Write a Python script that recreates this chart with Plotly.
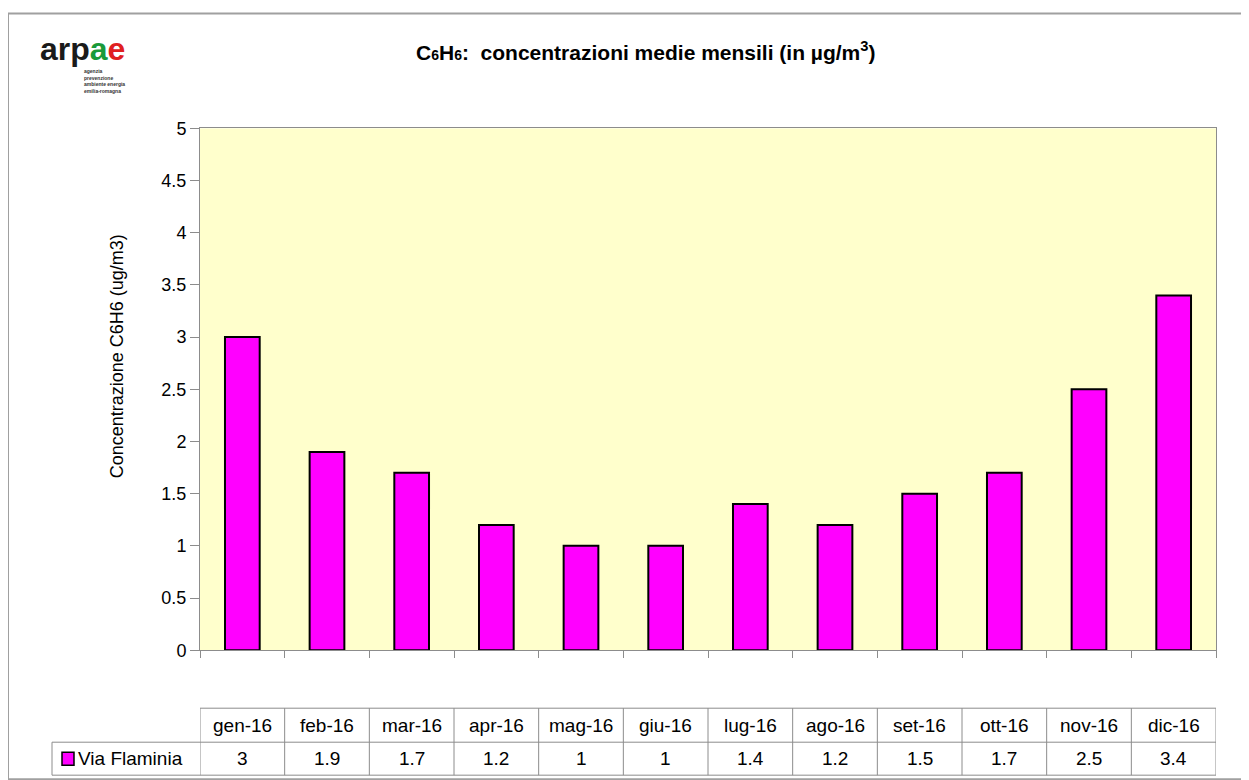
import plotly.graph_objects as go

mesi = ["gen-16", "feb-16", "mar-16", "apr-16", "mag-16", "giu-16",
        "lug-16", "ago-16", "set-16", "ott-16", "nov-16", "dic-16"]
via_flaminia = [3, 1.9, 1.7, 1.2, 1, 1, 1.4, 1.2, 1.5, 1.7, 2.5, 3.4]
serie = "Via Flaminia"
y_ticks = [0, 0.5, 1, 1.5, 2, 2.5, 3, 3.5, 4, 4.5, 5]

W, H = 1249 - 16, 790
FONT = "Arial, Liberation Sans, sans-serif"
GRIGIO = "#8c8c8c"


def px(x):
    # pixel dell'immagine -> coordinate paper (margine pagina 8px)
    return (x - 8) / W


def py(y):
    # correzione verticale misurata sulla foto della pagina
    return 1 - (y / 0.975 - 17) / H


fig = go.Figure()
fig.add_trace(go.Bar(
    x=mesi, y=via_flaminia, name=serie, width=0.41,
    marker=dict(color="#FF00FF", line=dict(color="black", width=2)),
    showlegend=False,
))

shapes = []
annotations = []

# cornice esterna
shapes.append(dict(type="rect", xref="paper", yref="paper",
                   x0=px(8), x1=px(1262), y0=py(12), y1=py(778),
                   line=dict(color="#a0a0a0", width=2)))

# tabella dati sotto il grafico
top, mid, bot = py(707), py(741), py(774)
n = len(mesi)
shapes.append(dict(type="line", xref="x", yref="paper", x0=-0.5, x1=n - 0.5,
                   y0=top, y1=top, line=dict(color=GRIGIO, width=1)))
shapes.append(dict(type="line", xref="paper", yref="paper", x0=px(52), x1=px(1216),
                   y0=mid, y1=mid, line=dict(color=GRIGIO, width=1)))
shapes.append(dict(type="line", xref="paper", yref="paper", x0=px(52), x1=px(1216),
                   y0=bot, y1=bot, line=dict(color=GRIGIO, width=1)))
shapes.append(dict(type="line", xref="paper", yref="paper", x0=px(52), x1=px(52),
                   y0=mid, y1=bot, line=dict(color=GRIGIO, width=1)))
for i in range(n + 1):
    shapes.append(dict(type="line", xref="x", yref="paper", x0=i - 0.5, x1=i - 0.5,
                       y0=top, y1=bot, line=dict(color=GRIGIO, width=1)))

for m, v in zip(mesi, via_flaminia):
    annotations.append(dict(x=m, xref="x", y=(top + mid) / 2, yref="paper",
                            text=m, showarrow=False, xanchor="center", yanchor="middle",
                            font=dict(family=FONT, size=19, color="black")))
    annotations.append(dict(x=m, xref="x", y=(mid + bot) / 2, yref="paper",
                            text=f"{v:g}", showarrow=False, xanchor="center", yanchor="middle",
                            font=dict(family=FONT, size=19, color="black")))

# legenda nella tabella
shapes.append(dict(type="rect", xref="paper", yref="paper",
                   x0=px(62), x1=px(74), y0=py(764), y1=py(751),
                   fillcolor="#FF00FF", line=dict(color="black", width=1.5)))
annotations.append(dict(x=px(76), xref="paper", y=(mid + bot) / 2, yref="paper",
                        text=serie, showarrow=False, xanchor="left", yanchor="middle",
                        font=dict(family=FONT, size=19, color="black")))

# titolo
annotations.append(dict(
    x=px(645), xref="paper", y=py(50), yref="paper", showarrow=False,
    xanchor="center", yanchor="middle",
    text="<b>C<span style='font-size:14px'>6</span>H<span style='font-size:14px'>6</span>:"
         "  concentrazioni medie mensili (in µg/m<sup>3</sup>)</b>",
    font=dict(family=FONT, size=21, color="black")))

# titolo asse y
annotations.append(dict(
    x=px(117), xref="paper", y=py(355), yref="paper", showarrow=False,
    xanchor="center", yanchor="middle", textangle=-90,
    text="Concentrazione C6H6 (ug/m3)",
    font=dict(family=FONT, size=18, color="black")))

# logo arpae
annotations.append(dict(
    x=px(38), xref="paper", y=py(48), yref="paper", showarrow=False,
    xanchor="left", yanchor="middle",
    text="<b>arp<span style='color:#1a9a3a'>a</span><span style='color:#e02020'>e</span></b>",
    font=dict(family=FONT, size=32, color="#1a1a1a")))
annotations.append(dict(
    x=px(82), xref="paper", y=py(80), yref="paper", showarrow=False,
    xanchor="left", yanchor="middle",
    text="<b>agenzia<br>prevenzione<br>ambiente energia<br>emilia-romagna</b>",
    align="left", font=dict(family=FONT, size=5, color="#333333")))

fig.update_layout(
    width=W, height=H,
    margin=dict(l=0, r=0, t=0, b=0),
    paper_bgcolor="white",
    plot_bgcolor="#FFFFCC",
    font=dict(family=FONT, size=15, color="black"),
    shapes=shapes,
    annotations=annotations,
    xaxis=dict(
        domain=[px(200), px(1216)],
        showticklabels=False, ticks="outside", tickson="boundaries",
        ticklen=7, tickcolor=GRIGIO,
        showline=True, linecolor=GRIGIO, linewidth=1, mirror=True,
        showgrid=False, range=[-0.5, n - 0.5],
    ),
    yaxis=dict(
        domain=[py(649), py(127)],
        range=[0, 5], tickvals=y_ticks, ticktext=[f"{t:g}" for t in y_ticks],
        ticks="outside", ticklen=9, tickcolor=GRIGIO,
        tickfont=dict(family=FONT, size=18),
        showline=True, linecolor=GRIGIO, linewidth=1, mirror=True,
        showgrid=False, zeroline=False,
    ),
)

fig.write_html("out.html")
